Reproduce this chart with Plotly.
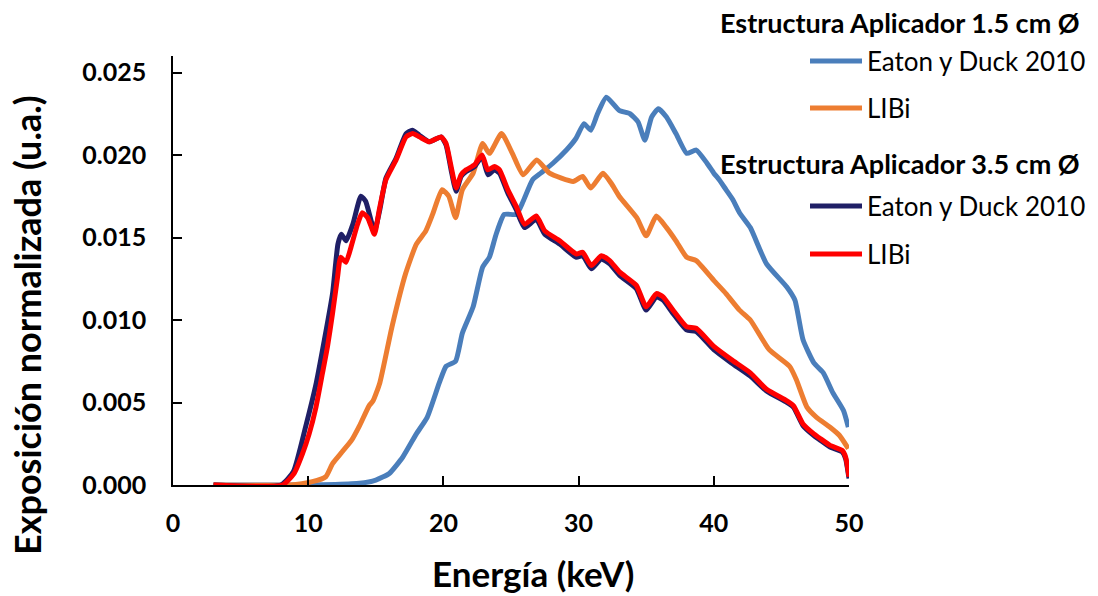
import plotly.graph_objects as go

# --- Espectros: Estructura Aplicador 1.5 cm Ø ---
e_eaton_15 = [3, 8, 10, 12, 13.8, 15.0, 16.0, 17.0, 18.0, 18.8, 19.7, 20.2, 20.9, 21.4, 22.2,
              22.9, 23.4, 23.9, 24.5, 25.4, 25.9, 26.6, 27.2, 28.1, 29.1, 29.8, 30.4, 30.9,
              31.4, 32.05, 33.0, 33.8, 34.4, 34.9, 35.4, 35.9, 36.5, 37.2, 38.0, 38.7, 39.5,
              40.0, 40.4, 40.9, 41.4, 41.9, 42.7, 43.9, 45.4, 46.0, 46.6, 47.4, 48.1, 48.8,
              49.6, 49.95]
y_eaton_15 = [0, 0, 0, 0.00003, 0.0001, 0.0003, 0.0007, 0.0017, 0.0031, 0.0041, 0.0062, 0.0072,
              0.0075, 0.0092, 0.0108, 0.0132, 0.0138, 0.0152, 0.0164, 0.0164, 0.0172, 0.0185,
              0.0189, 0.0195, 0.0203, 0.0210, 0.0219, 0.0215, 0.0225, 0.0235, 0.0227, 0.0225,
              0.0220, 0.0209, 0.0223, 0.0228, 0.0223, 0.0213, 0.0201, 0.0203, 0.0195, 0.0189,
              0.0185, 0.0179, 0.0173, 0.0165, 0.0156, 0.0134, 0.0120, 0.0112, 0.0088, 0.0074,
              0.0068, 0.0056, 0.0045, 0.0035]

e_libi_15 = [3, 8.6, 10.3, 11.3, 11.8, 12.5, 13.2, 13.8, 14.5, 14.8, 15.3, 16.2, 17.2, 18.0,
             18.7, 19.2, 19.9, 20.4, 20.9, 21.4, 22.2, 22.9, 23.4, 24.3, 25.1, 25.9, 26.9,
             27.85, 29.6, 30.3, 30.9, 31.8, 32.4, 33.0, 34.3, 35.0, 35.75, 36.5, 37.2, 38.0,
             38.7, 40.0, 40.9, 41.9, 42.7, 44.1, 45.6, 46.1, 46.9, 47.6, 48.6, 49.3, 49.95]
y_libi_15 = [0, 0, 0.0002, 0.0005, 0.0013, 0.0020, 0.0027, 0.0036, 0.0048, 0.0051, 0.0062,
             0.0096, 0.0128, 0.0146, 0.0154, 0.0164, 0.0179, 0.0175, 0.0162, 0.0179, 0.0189,
             0.0207, 0.0201, 0.0213, 0.0201, 0.0188, 0.0197, 0.0189, 0.0184, 0.0187, 0.0180,
             0.0189, 0.0183, 0.0175, 0.0162, 0.0151, 0.0163, 0.0156, 0.0148, 0.0138, 0.0136,
             0.0124, 0.0116, 0.0106, 0.0100, 0.0082, 0.0072, 0.0064, 0.0047, 0.0041, 0.0035,
             0.0030, 0.0022]

# --- Espectros: Estructura Aplicador 3.5 cm Ø ---
e_eaton_35 = [3, 8.0, 8.9, 9.8, 10.6, 11.2, 11.8, 12.2, 12.45, 12.8, 13.3, 13.9, 14.25, 14.9,
              15.3, 15.75, 16.5, 17.24, 17.7, 18.22, 18.96, 19.83, 20.2, 20.57, 20.94, 21.31,
              21.68, 22.3, 22.86, 23.3, 23.78, 24.15, 24.76, 25.38, 26.0, 26.87, 27.5, 28.6,
              29.83, 30.3, 30.94, 31.68, 32.3, 33.04, 34.27, 35.0, 35.75, 36.25, 36.98, 37.98,
              38.7, 40.0, 41.3, 42.7, 43.9, 45.4, 45.9, 46.6, 47.4, 47.9, 48.6, 49.5, 49.75, 50.0]
y_eaton_35 = [0, 0, 0.0008, 0.0035, 0.0062, 0.0088, 0.0116, 0.0146, 0.0152, 0.0148, 0.0158,
              0.0175, 0.0172, 0.0154, 0.0167, 0.0186, 0.0198, 0.0213, 0.0215, 0.0212, 0.0208,
              0.0211, 0.0206, 0.0191, 0.0178, 0.0187, 0.0190, 0.0193, 0.0199, 0.0188, 0.0191,
              0.0189, 0.0177, 0.0167, 0.0156, 0.0161, 0.0152, 0.0146, 0.0138, 0.0139, 0.0131,
              0.0137, 0.0134, 0.0127, 0.0119, 0.0106, 0.0114, 0.0112, 0.0104, 0.0094, 0.0093,
              0.0082, 0.0074, 0.0066, 0.0057, 0.0050, 0.0047, 0.0036, 0.0030, 0.0027, 0.0023,
              0.0020, 0.0016, 0.0004]

e_libi_35 = [3, 8.1, 8.96, 9.58, 10.07, 10.57, 11.06, 11.43, 11.8, 12.17, 12.4, 12.79, 13.16,
             13.65, 14.0, 14.4, 14.9, 15.26, 15.75, 16.5, 17.24, 17.73, 18.22, 18.96, 19.83,
             20.2, 20.57, 20.94, 21.31, 21.68, 22.3, 22.86, 23.28, 23.78, 24.15, 24.76, 25.38,
             26.0, 26.87, 27.5, 28.6, 29.83, 30.3, 30.94, 31.68, 32.3, 33.04, 34.27, 35.0,
             35.75, 36.25, 36.98, 37.98, 38.7, 40.0, 41.3, 42.7, 43.9, 45.4, 45.9, 46.6, 47.4,
             47.9, 48.6, 49.5, 49.75, 50.0]
y_libi_35 = [0, 0, 0.0007, 0.0019, 0.0031, 0.0047, 0.0068, 0.0084, 0.0104, 0.0126, 0.0138,
             0.0135, 0.0144, 0.0158, 0.0165, 0.0162, 0.0152, 0.0167, 0.0185, 0.0197, 0.0211,
             0.0213, 0.0211, 0.0208, 0.0211, 0.0207, 0.0193, 0.0180, 0.0188, 0.0191, 0.0194,
             0.0200, 0.0191, 0.0193, 0.0191, 0.0179, 0.0169, 0.0158, 0.0163, 0.0154, 0.0148,
             0.0140, 0.0141, 0.0133, 0.0139, 0.0136, 0.0129, 0.0121, 0.0108, 0.0116, 0.0114,
             0.0106, 0.0096, 0.0095, 0.0084, 0.0076, 0.0068, 0.0058, 0.0051, 0.0048, 0.0037,
             0.0031, 0.0028, 0.0024, 0.0021, 0.0017, 0.0005]

x_ticks = [0, 10, 20, 30, 40, 50]
y_ticks = [0.000, 0.005, 0.010, 0.015, 0.020, 0.025]

x_title = "Energía (keV)"
y_title = "Exposición normalizada (u.a.)"
group_titles = ["Estructura Aplicador 1.5 cm Ø", "Estructura Aplicador 3.5 cm Ø"]
series_names = ["Eaton y Duck 2010", "LIBi", "Eaton y Duck 2010", "LIBi"]
series_colors = ["#4A7EBB", "#ED7D31", "#1F1F66", "#FF0000"]

FONT = "Lato"
W, H = 1098, 596
ML, MR, MT, MB = 173, 249, 56, 111
PW, PH = W - ML - MR, H - MT - MB

fig = go.Figure()
series = [(e_eaton_15, y_eaton_15), (e_libi_15, y_libi_15),
          (e_eaton_35, y_eaton_35), (e_libi_35, y_libi_35)]
for (ex, ey), name, col in zip(series, series_names, series_colors):
    fig.add_trace(go.Scatter(x=ex, y=ey, mode="lines", name=name, showlegend=False,
                             line=dict(color=col, width=5, shape="spline", smoothing=0.5)))


def px_x(px):
    return (px - ML) / PW


def px_y(py):
    return (H - MB - py) / PH


annotations = []
shapes = []

# Axis titles
annotations.append(dict(x=px_x(533), y=px_y(573), xref="paper", yref="paper",
                        text="<b>%s</b>" % x_title, showarrow=False,
                        xanchor="center", yanchor="middle",
                        font=dict(family=FONT, size=35, color="black")))
annotations.append(dict(x=px_x(27), y=px_y(325), xref="paper", yref="paper",
                        text="<b>%s</b>" % y_title, showarrow=False, textangle=-90,
                        xanchor="center", yanchor="middle",
                        font=dict(family=FONT, size=36, color="black")))

# Legend drawn as grouped entries with titles
title_rows = [22, 163]
item_rows = [61, 108, 206, 254]
for t, ty in zip(group_titles, title_rows):
    annotations.append(dict(x=px_x(718), y=px_y(ty), xref="paper", yref="paper",
                            text="<b>%s</b>" % t, showarrow=False, xanchor="left",
                            yanchor="middle", font=dict(family=FONT, size=27, color="black")))
for name, col, iy in zip(series_names, series_colors, item_rows):
    shapes.append(dict(type="line", xref="paper", yref="paper",
                       x0=px_x(810), x1=px_x(862), y0=px_y(iy), y1=px_y(iy),
                       line=dict(color=col, width=5)))
    annotations.append(dict(x=px_x(865), y=px_y(iy), xref="paper", yref="paper",
                            text=name, showarrow=False, xanchor="left", yanchor="middle",
                            font=dict(family=FONT, size=26, color="black")))

fig.update_layout(
    width=W, height=H,
    margin=dict(l=ML, r=MR, t=MT, b=MB, autoexpand=False),
    paper_bgcolor="white", plot_bgcolor="white",
    font=dict(family=FONT, color="black"),
    annotations=annotations, shapes=shapes,
)
fig.update_xaxes(
    range=[0, 50], tickvals=x_ticks, ticktext=[str(v) for v in x_ticks],
    ticks="inside", ticklen=9, tickwidth=1.5, tickcolor="black",
    showline=True, linecolor="black", linewidth=1.5, showgrid=False, zeroline=False,
    tickfont=dict(family=FONT, size=25, color="black", weight="bold"),
    ticklabelstandoff=15,
)
fig.update_yaxes(
    range=[0, 0.026], tickvals=y_ticks, ticktext=["%.3f" % v for v in y_ticks],
    ticks="inside", ticklen=9, tickwidth=1.5, tickcolor="black",
    showline=True, linecolor="black", linewidth=1.5, showgrid=False, zeroline=False,
    tickfont=dict(family=FONT, size=25, color="black", weight="bold"),
    ticklabelstandoff=20,
)

fig.write_html("out.html")
